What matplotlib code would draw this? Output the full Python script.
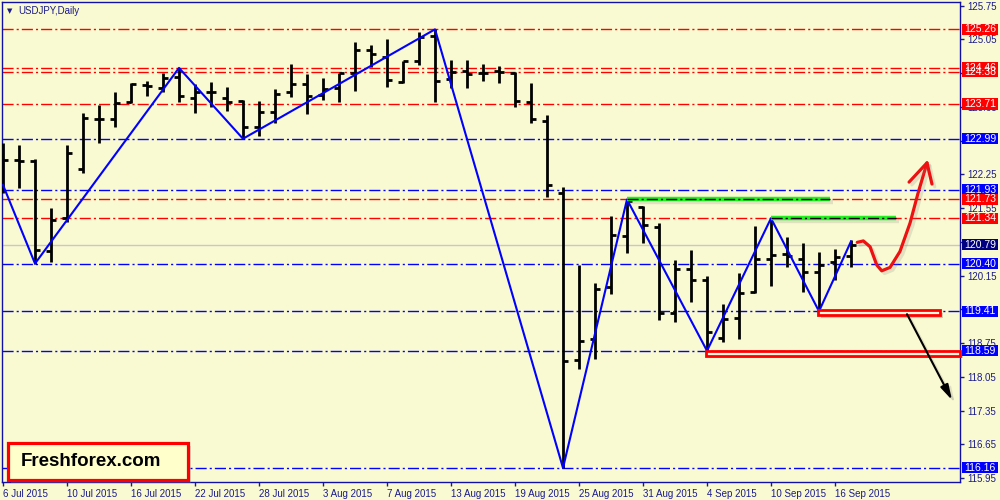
import matplotlib
matplotlib.use("Agg")
import matplotlib.pyplot as plt
import matplotlib.patheffects as pe
from matplotlib.patches import Rectangle
from matplotlib.transforms import blended_transform_factory
import pandas as pd

# daily USDJPY bars, 6 Jul - 17 Sep 2015
dates = pd.bdate_range("2015-07-06", periods=54)
opens = [122.65, 122.55, 122.52, 120.67, 121.34, 122.36, 123.40, 123.39, 123.76, 124.10,
         124.05, 124.28, 123.84, 123.95, 123.84, 123.77, 123.24, 123.55, 123.95, 124.13,
         123.90, 124.04, 124.36, 124.83, 124.69, 124.16, 124.61, 125.12, 124.22, 124.40,
         124.35, 124.39, 124.36, 123.76, 123.36, 121.87, 118.40, 118.83, 119.92, 120.98,
         121.57, 121.15, 119.37, 120.29, 120.06, 118.86, 119.28, 119.80, 120.49, 120.60,
         120.49, 120.22, 120.43, 120.56]
highs = [122.91, 122.86, 122.57, 121.56, 122.86, 123.52, 123.70, 123.95, 124.15, 124.19,
         124.35, 124.46, 124.13, 124.16, 124.07, 123.79, 123.77, 124.02, 124.55, 124.33,
         124.24, 124.36, 124.99, 124.93, 125.06, 124.61, 125.20, 125.26, 124.62, 124.62,
         124.55, 124.50, 124.38, 124.14, 123.48, 121.99, 120.38, 119.99, 121.39, 121.73,
         121.59, 121.24, 120.47, 120.68, 120.15, 119.56, 120.20, 121.18, 121.34, 120.95,
         120.83, 120.63, 120.70, 120.89]
lows = [121.86, 121.97, 120.39, 120.44, 121.26, 122.27, 122.90, 123.24, 123.74, 123.88,
        123.97, 123.76, 123.53, 123.65, 123.57, 122.98, 123.05, 123.32, 123.86, 123.50,
        123.79, 123.76, 123.99, 124.47, 124.07, 124.15, 124.51, 123.76, 124.04, 124.04,
        124.19, 124.15, 123.65, 123.32, 121.79, 116.16, 118.21, 118.43, 119.76, 120.61,
        120.83, 119.23, 119.19, 119.61, 118.59, 118.77, 118.83, 119.78, 119.93, 120.32,
        119.82, 119.41, 120.06, 120.32]
closes = [122.55, 122.53, 120.68, 121.30, 122.70, 123.41, 123.39, 123.74, 124.13, 124.08,
          124.26, 123.88, 123.97, 123.95, 123.76, 123.24, 123.55, 123.91, 124.13, 123.88,
          124.02, 124.36, 124.83, 124.74, 124.21, 124.61, 125.11, 124.19, 124.38, 124.33,
          124.35, 124.37, 123.78, 123.40, 122.03, 118.38, 118.80, 119.87, 120.99, 121.70,
          121.20, 119.37, 120.29, 120.06, 118.97, 119.24, 119.78, 120.49, 120.58, 120.56,
          120.22, 120.37, 120.53, 120.79]

# zigzag swing points (bar index, price)
zz_idx = [0, 2, 11, 15, 27, 35, 39, 44, 48, 51, 53]
zz_px = [122.03, 120.40, 124.46, 122.99, 125.26, 116.16, 121.73, 118.59, 121.34, 119.41, 120.86]

red_levels = [125.26, 124.46, 124.38, 123.71, 121.73, 121.34]
blue_levels = [122.99, 121.93, 120.40, 119.41, 118.59, 116.16]
last_price = 120.79
price_ticks = [125.75, 125.05, 124.35, 123.65, 122.95, 122.25, 121.55, 120.85,
               120.15, 119.45, 118.75, 118.05, 117.35, 116.65, 115.95]
# tick labels that sit fully under a level box on the original
hidden_ticks = [124.35, 122.95, 120.85, 119.45]

# drawn objects
green_y = [121.73, 121.34]
green_x0 = [39, 48]
green_x1 = [51.7, 55.8]
rect_x0 = [50.94, 43.94]
rect_x1 = [58.56, 59.81]
rect_lo = [119.33, 118.49]
rect_hi = [119.44, 118.58]
up_x = [53.39, 53.77, 54.19, 54.61, 54.92, 55.44, 56.06, 56.69, 57.19, 57.75]
up_y = [120.84, 120.87, 120.75, 120.37, 120.25, 120.32, 120.65, 121.24, 121.86, 122.49]
up_barb_x = [56.63, 57.75, 58.06]
up_barb_y = [122.09, 122.49, 122.05]
down_start = (56.5, 119.35)
down_end = (59.31, 117.57)

BG = "#FAFAD2"
NAVY = "#1a1a8c"
plt.rcParams["lines.scale_dashes"] = False
plt.rcParams["font.family"] = ["Liberation Sans", "DejaVu Sans"]
DASHDOT = (0, (8, 2.2, 1.5, 2.2))

fig = plt.figure(figsize=(10, 5), dpi=100, facecolor=BG)
ax = fig.add_axes([0.002, 0.036, 0.958, 0.96], facecolor=BG)
ax.set_xlim(-0.0625, 59.8125)
ax.set_ylim(115.868, 125.827)

for lv in red_levels:
    ax.axhline(lv, color="#ff0000", lw=1.0, ls=DASHDOT, zorder=1)
for lv in blue_levels:
    ax.axhline(lv, color="#0000ff", lw=1.0, ls=DASHDOT, zorder=1)
ax.axhline(last_price, color="#c8c8c8", lw=1.0, zorder=0.8)

# OHLC bars
idx = list(range(len(dates)))
ax.vlines(idx, lows, highs, color="black", lw=2.0, zorder=3)
ax.hlines(opens, [i - 0.32 for i in idx], idx, color="black", lw=2.0, zorder=3)
ax.hlines(closes, idx, [i + 0.32 for i in idx], color="black", lw=2.0, zorder=3)

ax.plot(zz_idx, zz_px, color="#0000ff", lw=1.5, zorder=4)

soft = [pe.SimpleLineShadow(offset=(2, -2), shadow_color="gray", alpha=0.2), pe.Normal()]
for y, x0, x1 in zip(green_y, green_x0, green_x1):
    ax.plot([x0, x1], [y, y], color="#22ee22", lw=3.2, solid_capstyle="butt",
            zorder=5, path_effects=soft)
    ax.plot([x0, x1], [y, y], color="black", lw=1.0, ls=DASHDOT, zorder=6)

for x0, x1, lo, hi in zip(rect_x0, rect_x1, rect_lo, rect_hi):
    ax.add_patch(Rectangle((x0, lo), x1 - x0, hi - lo, facecolor="#fff8e0",
                           edgecolor="#ff0000", lw=2.0, zorder=5, clip_on=False,
                           path_effects=[pe.SimplePatchShadow(offset=(2, -2), alpha=0.25),
                                         pe.Normal()]))

ax.plot(up_x, up_y, color="#ee1111", lw=2.3, zorder=6, solid_capstyle="round",
        path_effects=soft)
ax.plot(up_barb_x, up_barb_y, color="#ee1111", lw=2.3, zorder=6, solid_capstyle="round",
        path_effects=soft)
ax.annotate("", xy=down_end, xytext=down_start, zorder=6,
            arrowprops=dict(arrowstyle="-|>,head_length=0.9,head_width=0.25",
                            color="black", lw=1.5, shrinkA=0, shrinkB=0,
                            path_effects=soft))

# axes styling
for s in ax.spines.values():
    s.set_color("#1010a8")
    s.set_linewidth(1.0)
ax.yaxis.tick_right()
ax.set_yticks(price_ticks)
ax.set_yticklabels(["" if v in hidden_ticks else f"{v:.2f}" for v in price_ticks])
xt = idx[::4]
ax.set_xticks(xt)
ax.set_xticklabels([f"{dates[i].day} {dates[i]:%b %Y}" for i in xt], ha="left")
ax.tick_params(axis="both", colors=NAVY, labelsize=7, length=3, width=1, pad=2,
               labelcolor=NAVY)

trans = blended_transform_factory(ax.transAxes, ax.transData)
levels = [(v, "#ff0000") for v in red_levels] + [(v, "#0000ff") for v in blue_levels]
levels.append((last_price, "#000080"))
for v, c in sorted(levels, key=lambda t: -t[0]):
    ax.add_patch(Rectangle((1.002, v - 0.115), 0.038, 0.23, transform=trans, facecolor=c,
                           edgecolor="none", clip_on=False, zorder=7))
    ax.text(1.021, v, f"{v:.2f}", transform=trans, color="white", ha="center",
            va="center", fontsize=7.5, clip_on=False, zorder=8)

# header
fig.text(0.010, 0.978, "\u25bc", color=NAVY, fontsize=5, ha="center", va="center",
         family="DejaVu Sans")
fig.text(0.018, 0.978, "USDJPY,Daily", color=NAVY, fontsize=7, ha="left", va="center")

# logo
fig.patches.append(Rectangle((0.011, 0.034), 0.180, 0.074, transform=fig.transFigure,
                             facecolor="gray", alpha=0.3, edgecolor="none", zorder=9))
fig.patches.append(Rectangle((0.008, 0.040), 0.180, 0.074, transform=fig.transFigure,
                             facecolor="#ffffcc", edgecolor="#ff0000", lw=2.3, zorder=10))
fig.text(0.021, 0.076, "Freshforex.com", fontsize=13.5, fontweight="bold",
         color="black", ha="left", va="center", zorder=11)

fig.savefig("out.png", dpi=100, facecolor=BG)
